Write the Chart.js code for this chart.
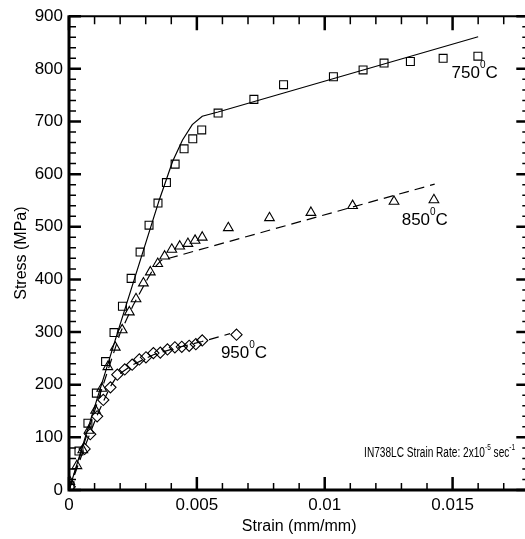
<!DOCTYPE html>
<html>
<head>
<meta charset="utf-8">
<script src="https://cdn.jsdelivr.net/npm/chart.js@4.4.0/dist/chart.umd.min.js"></script>
<style>
  html, body { margin: 0; padding: 0; background: #fff; overflow: hidden; }
  #wrap { width: 536px; height: 539px; }
</style>
</head>
<body>
<div id="wrap"><canvas id="chart" width="536" height="539"></canvas></div>
<script>
// measured points (strain mm/mm, stress MPa)
const strain750 = [0.00004, 0.00039, 0.00074, 0.00107, 0.00143, 0.00176, 0.00209, 0.00243, 0.00278, 0.00313,
                   0.00348, 0.00381, 0.00415, 0.0045, 0.00484, 0.00519, 0.00583, 0.00723, 0.00839, 0.01034,
                   0.0115, 0.01232, 0.01335, 0.01463, 0.01599];
const stress750 = [8, 74, 127, 184, 244, 299, 349, 402, 452, 503,
                   545, 584, 619, 648, 667, 684, 716, 742, 770, 785,
                   798, 811, 814, 820, 824];

const strain850 = [0.00003, 0.00031, 0.00054, 0.00078, 0.00104, 0.00128, 0.00152, 0.00181, 0.00208, 0.00236,
                   0.00262, 0.00291, 0.00318, 0.00347, 0.00374, 0.00402, 0.00433, 0.00465, 0.00493, 0.00521,
                   0.00623, 0.00784, 0.00946, 0.01109, 0.01271, 0.01427];
const stress850 = [16, 46, 76, 113, 151, 193, 234, 271, 304, 338,
                   363, 393, 414, 430, 444, 457, 463, 468, 474, 480,
                   498, 517, 527, 540, 548, 551];

const strain950 = [0.00003, 0.00061, 0.00083, 0.0011, 0.00134, 0.00162, 0.00189, 0.00218, 0.00247, 0.00275,
                   0.00301, 0.0033, 0.00357, 0.00385, 0.00414, 0.00441, 0.0047, 0.00496, 0.00521, 0.00655];
const stress950 = [6, 78, 106, 140, 171, 195, 219, 229, 238, 248,
                   252, 260, 261, 267, 271, 272, 274, 277, 284, 295];

// model curves
const fitStrain750 = [0, 0.00184, 0.00353, 0.00405, 0.00444, 0.00482, 0.00521, 0.00583, 0.016];
const fitStress750 = [0, 290, 551, 624, 665, 694, 710, 718, 861];

const fitStrain850 = [0, 0.001, 0.002, 0.0025, 0.003, 0.0033, 0.0036, 0.0143];
const fitStress850 = [0, 150, 298, 350, 395, 420, 436, 581];

const fitStrain950 = [0, 0.0006, 0.0011, 0.0016, 0.0019, 0.0025, 0.0033, 0.0042, 0.0052, 0.0063];
const fitStress950 = [0, 80, 142, 195, 218, 238, 257, 270, 282, 297];

const xTicks = [0, 0.005, 0.01, 0.015];

function pairs(xs, ys) {
    return xs.map((x, i) => ({ x: x, y: ys[i] }));
}

const FONT = '"Liberation Sans", Arial, Helvetica, sans-serif';

// draws the box round the plot with inward tick marks
const framePlugin = {
    id: 'frame',
    afterDraw(chart) {
        const ctx = chart.ctx;
        const a = chart.chartArea;
        const xs = chart.scales.x, ys = chart.scales.y;
        ctx.save();
        ctx.strokeStyle = '#000';
        ctx.lineCap = 'butt';

        // minor ticks
        ctx.lineWidth = 1.5;
        ctx.beginPath();
        for (let i = 1; i < 18; i++) {
            if (i % 5 === 0) continue;
            const px = xs.getPixelForValue(i * 0.001);
            ctx.moveTo(px, a.bottom); ctx.lineTo(px, a.bottom - 7);
            ctx.moveTo(px, a.top); ctx.lineTo(px, a.top + 8);
        }
        for (let v = 20; v < 900; v += 20) {
            if (v % 100 === 0) continue;
            const py = ys.getPixelForValue(v);
            ctx.moveTo(a.left, py); ctx.lineTo(a.left + 7, py);
            ctx.moveTo(a.right, py); ctx.lineTo(a.right - 7, py);
        }
        ctx.stroke();

        // major ticks
        ctx.lineWidth = 2.5;
        ctx.beginPath();
        xs.ticks.forEach(t => {
            const px = xs.getPixelForValue(t.value);
            ctx.moveTo(px, a.bottom); ctx.lineTo(px, a.bottom - 13);
            ctx.moveTo(px, a.top); ctx.lineTo(px, a.top + 14);
        });
        ys.ticks.forEach(t => {
            const py = ys.getPixelForValue(t.value);
            ctx.moveTo(a.left, py); ctx.lineTo(a.left + 12, py);
            ctx.moveTo(a.right, py); ctx.lineTo(a.right - 13, py);
        });
        ctx.stroke();

        // top and right border
        ctx.lineWidth = 2;
        ctx.beginPath();
        ctx.moveTo(a.left, a.top); ctx.lineTo(a.right, a.top);
        ctx.moveTo(a.right, a.top); ctx.lineTo(a.right, a.bottom);
        ctx.stroke();

        // left and bottom axis
        ctx.lineWidth = 3;
        ctx.beginPath();
        ctx.moveTo(a.left, a.top - 1); ctx.lineTo(a.left, a.bottom);
        ctx.moveTo(a.left - 1.5, a.bottom); ctx.lineTo(a.right, a.bottom);
        ctx.stroke();

        // labels
        ctx.fillStyle = '#000';
        ctx.textBaseline = 'alphabetic';
        ctx.textAlign = 'left';
        // parts: [text, font size, raise]; fitWidth squeezes the run to that width
        function run(x, y, parts, fitWidth) {
            let total = 0;
            parts.forEach(p => {
                ctx.font = p[1] + 'px ' + FONT;
                total += ctx.measureText(p[0]).width;
            });
            ctx.save();
            ctx.translate(x, y);
            if (fitWidth) ctx.scale(fitWidth / total, 1);
            let cx = 0;
            parts.forEach(p => {
                ctx.font = p[1] + 'px ' + FONT;
                ctx.fillText(p[0], cx, -(p[2] || 0));
                cx += ctx.measureText(p[0]).width;
            });
            ctx.restore();
        }
        const temp = (s) => [[s, 17], ['0', 10, 10], ['C', 17]];
        run(xs.getPixelForValue(0.01496), ys.getPixelForValue(783), temp('750'));
        run(xs.getPixelForValue(0.01301), ys.getPixelForValue(503), temp('850'));
        run(xs.getPixelForValue(0.00594), ys.getPixelForValue(250), temp('950'));
        run(xs.getPixelForValue(0.01154), ys.getPixelForValue(63),
            [['IN738LC Strain Rate: 2x10', 14], ['-5', 9, 7], [' sec', 14], ['-1', 9, 7]], 151);
        ctx.restore();
    }
};

const markerBase = {
    showLine: false,
    borderColor: '#000',
    backgroundColor: 'rgba(0,0,0,0)',
    borderWidth: 1.1,
    pointRadius: 5.5,
    pointHoverRadius: 5.5
};
const lineBase = {
    showLine: true,
    borderColor: '#000',
    borderWidth: 1.2,
    pointRadius: 0,
    pointHoverRadius: 0,
    fill: false,
    tension: 0
};

new Chart(document.getElementById('chart').getContext('2d'), {
    type: 'scatter',
    data: {
        datasets: [
            { ...lineBase, label: '750 fit', data: pairs(fitStrain750, fitStress750) },
            { ...lineBase, label: '850 fit', data: pairs(fitStrain850, fitStress850), borderDash: [10, 6] },
            { ...lineBase, label: '950 fit', data: pairs(fitStrain950, fitStress950), borderDash: [10, 6] },
            { ...markerBase, label: '750', data: pairs(strain750, stress750), pointStyle: 'rect', pointRadius: 5.6 },
            { ...markerBase, label: '850', data: pairs(strain850, stress850), pointStyle: 'triangle', pointRadius: 5.6 },
            { ...markerBase, label: '950', data: pairs(strain950, stress950), pointStyle: 'rectRot', pointRadius: 5.6 }
        ]
    },
    options: {
        responsive: false,
        animation: false,
        devicePixelRatio: 1,
        layout: { padding: { left: 0, right: 4, top: 14, bottom: 0 } },
        plugins: {
            legend: { display: false },
            tooltip: { enabled: false }
        },
        scales: {
            x: {
                type: 'linear',
                min: 0,
                max: 0.018,
                grid: { display: false, drawTicks: false },
                border: { display: false },
                afterFit: s => { s.height = 49; },
                afterBuildTicks: s => { s.ticks = xTicks.map(v => ({ value: v })); },
                ticks: {
                    color: '#000',
                    padding: 5,
                    font: { family: FONT, size: 17 },
                    maxRotation: 0,
                    callback: v => (v === 0 ? '0' : String(+v.toFixed(3)))
                },
                title: {
                    display: true,
                    text: 'Strain (mm/mm)',
                    color: '#000',
                    font: { family: FONT, size: 16 },
                    padding: { top: 0, bottom: 3 }
                }
            },
            y: {
                type: 'linear',
                min: 0,
                max: 900,
                grid: { display: false, drawTicks: false },
                border: { display: false },
                afterFit: s => { s.width = 69; },
                ticks: {
                    stepSize: 100,
                    color: '#000',
                    padding: 6,
                    font: { family: FONT, size: 17 }
                },
                title: {
                    display: true,
                    text: 'Stress (MPa)',
                    color: '#000',
                    font: { family: FONT, size: 16 },
                    padding: { top: 12, bottom: 0 }
                }
            }
        }
    },
    plugins: [framePlugin]
});
</script>
</body>
</html>
